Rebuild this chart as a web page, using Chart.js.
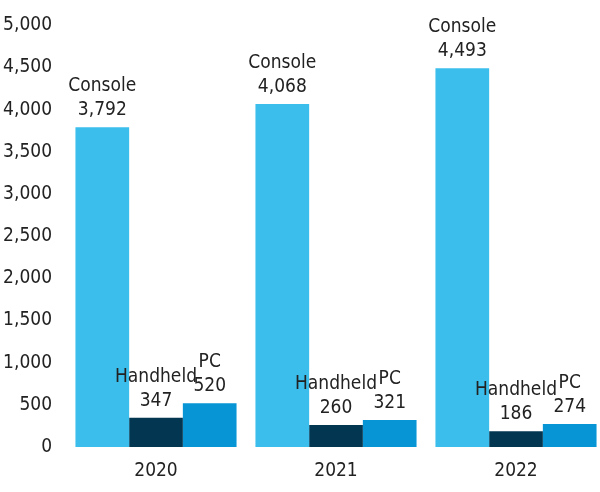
<!DOCTYPE html>
<html>
<head>
<meta charset="utf-8">
<script src="https://cdn.jsdelivr.net/npm/chart.js@4"></script>
<style>
  html, body { margin: 0; padding: 0; background: #fff; overflow: hidden; }
  #clip { width: 600px; height: 492px; overflow: hidden; }
  #wrap { width: 606px; height: 492px; position: relative; }
</style>
</head>
<body>
<div id="clip"><div id="wrap"><canvas id="chart"></canvas></div></div>
<script>
/* ── data ─────────────────────────────────── */
const YEARS    = ['2020', '2021', '2022'];
const SERIES   = ['Console', 'Handheld', 'PC'];
const CONSOLE  = [3792, 4068, 4493];
const HANDHELD = [347, 260, 186];
const PC       = [520, 321, 274];
const COLORS   = ['#3bbeec', '#023651', '#0795d5'];

const FONT = '"Liberation Sans Narrow", "DejaVu Sans Condensed", "Roboto", sans-serif';
const TEXT = '#222222';

/* ── label plugin: series name + value above each bar ── */
const barLabels = {
  id: 'barLabels',
  afterDatasetsDraw(chart) {
    const ctx = chart.ctx;
    ctx.save();
    ctx.fillStyle = TEXT;
    ctx.font = '19px ' + FONT;
    ctx.textAlign = 'center';
    ctx.textBaseline = 'alphabetic';
    chart.data.datasets.forEach((ds, i) => {
      chart.getDatasetMeta(i).data.forEach((bar, j) => {
        const v = ds.data[j];
        ctx.fillText(v.toLocaleString('en-US'), bar.x, bar.y - 12);
        ctx.fillText(ds.label, bar.x, bar.y - 36);
      });
    });
    ctx.restore();
  },
};

new Chart(document.getElementById('chart'), {
  type: 'bar',
  data: {
    labels: YEARS,
    datasets: [CONSOLE, HANDHELD, PC].map((d, i) => ({
      label: SERIES[i],
      data: d,
      backgroundColor: COLORS[i],
      borderWidth: 0,
      barPercentage: 1,
      categoryPercentage: 0.895,
    })),
  },
  options: {
    responsive: true, maintainAspectRatio: false, animation: false,
    layout: { padding: { top: 8, right: 0, left: 0, bottom: 0 } },
    plugins: { legend: { display: false }, tooltip: { enabled: false } },
    scales: {
      x: {
        grid: { display: false, drawTicks: false },
        border: { display: false },
        afterFit: s => { s.height = 45; },
        ticks: { color: TEXT, font: { family: FONT, size: 19 }, padding: 13 },
      },
      y: {
        min: 0, max: 5000,
        grid: { display: false, drawTicks: false },
        border: { display: false },
        afterFit: s => { s.width = 66; },
        ticks: {
          stepSize: 500, color: TEXT, padding: 14,
          font: { family: FONT, size: 19 },
          callback: v => v.toLocaleString('en-US'),
        },
      },
    },
  },
  plugins: [barLabels],
});
</script>
</body>
</html>
